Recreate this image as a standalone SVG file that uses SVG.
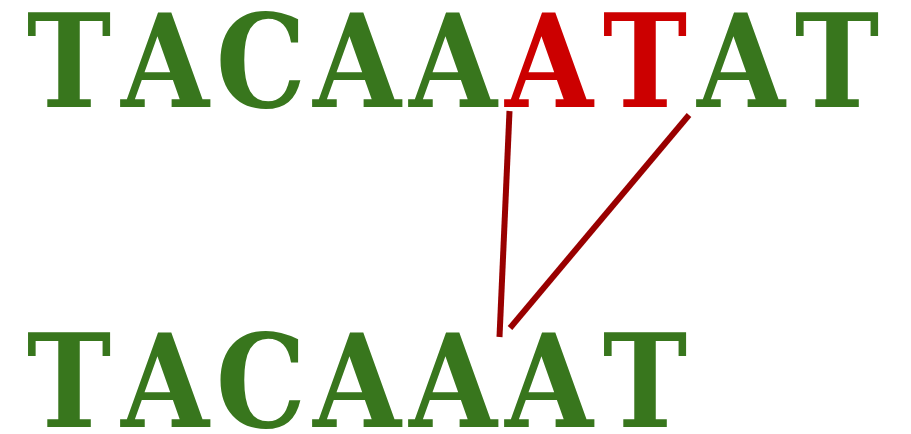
<svg xmlns="http://www.w3.org/2000/svg" width="911" height="434" viewBox="0 0 911 434">
<style>
.seq{font-family:"DejaVu Serif","Liberation Serif",serif;font-weight:bold;font-size:129px;fill:#38761d;text-anchor:middle}
.hl{fill:#cc0000}
.ln{stroke:#990000;stroke-width:6;fill:none}
</style>
<rect width="911" height="434" fill="#ffffff"/>
<g id="top"><text class="seq" transform="scale(0.88 1)" x="78.4 187.5 296.6 405.7 514.8 623.9 733 842 951.1" y="107">TACAA<tspan class="hl">AT</tspan>AT</text></g>
<g id="bottom"><text class="seq" transform="scale(0.88 1)" x="78.4 187.5 296.6 405.7 514.8 623.9 733" y="427">TACAAAT</text></g>
<g id="connectors">
<line class="ln" x1="509.5" y1="111" x2="499.5" y2="337"/>
<line class="ln" x1="689" y1="115" x2="510" y2="328"/>
</g>
</svg>
